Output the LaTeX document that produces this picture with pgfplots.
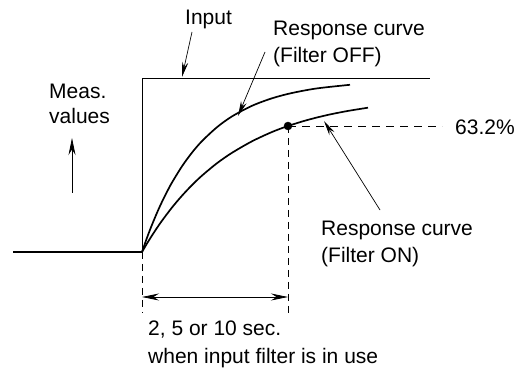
\documentclass[border=0pt]{standalone}
\usepackage{pgfplots}
\pgfplotsset{compat=1.18}
\usepackage{fontspec}
\setmainfont{Liberation Sans}
\usetikzlibrary{arrows.meta}
\begin{document}
\begin{tikzpicture}[font=\fontsize{21bp}{27bp}\selectfont]
\begin{axis}[
  width=516bp, height=369bp, scale only axis,
  xmin=0, xmax=516, ymin=0, ymax=369,
  hide axis, clip=false,
]
% bounding helper
\addplot[draw=none, forget plot] coordinates {(0,0) (516,369)};
% input step
\addplot[black, line width=1.7pt] coordinates {(13,117) (142,117)};
\addplot[black, line width=0.8pt] coordinates {(142,117) (142,291) (430,291)};
% response curve, filter OFF
\addplot[black, line width=1.7pt, smooth] coordinates {
(142,117) (146,128.5) (150,139.2) (154,149.1) (158,158.5) (162,167.2) (167,177.2)
(172,186.5) (182,202.7) (192,216.4) (202,227.9) (217,241.8) (232,252.6) (252,263.2)
(272,270.7) (292,276) (317,280.6) (350,284.2)};
% response curve, filter ON
\addplot[black, line width=1.7pt, smooth] coordinates {
(142,117) (147,125.5) (152,133.5) (157,141.1) (162,148.3) (172,161.5) (182,173.3)
(192,183.9) (202,193.4) (217,205.8) (232,216.2) (252,227.7) (272,237) (288,243)
(307,248.9) (327,253.9) (347,257.9) (368,261.3)};
% dashed guides
\addplot[black, line width=0.8pt, dash pattern=on 8bp off 6bp] coordinates {(288,243) (442,243)};
\addplot[black, line width=0.8pt, dash pattern=on 7bp off 5bp] coordinates {(288,243) (288,52)};
\addplot[black, line width=0.8pt, dash pattern=on 7bp off 5bp] coordinates {(142,117) (142,56)};
% 63.2% point
\addplot[only marks, mark=*, mark size=4bp, black] coordinates {(288,243)};
% double arrow
\draw[black, line width=0.8pt, {Stealth[length=17bp,width=7bp]}-{Stealth[length=17bp,width=7bp]}] (axis cs:142,72) -- (axis cs:288,72);
% label arrows
\draw[black, line width=0.7pt, -{Stealth[length=15bp,width=6bp]}] (axis cs:192,337) -- (axis cs:182,292);
\draw[black, line width=0.7pt, -{Stealth[length=15bp,width=6bp]}] (axis cs:265,317) -- (axis cs:238,253);
\draw[black, line width=0.7pt, -{Stealth[length=15bp,width=6bp]}] (axis cs:380,159) -- (axis cs:324,248);
\draw[black, line width=0.8pt, -{Stealth[length=17bp,width=7bp]}] (axis cs:72,176) -- (axis cs:72,231);
% texts
\node[anchor=base west, inner sep=0] at (axis cs:185,344) {Input};
\node[anchor=base west, inner sep=0] at (axis cs:49,270) {Meas.};
\node[anchor=base west, inner sep=0] at (axis cs:49,245) {values};
\node[anchor=base west, inner sep=0] at (axis cs:273,333) {Response curve};
\node[anchor=base west, inner sep=0] at (axis cs:273,306) {(Filter OFF)};
\node[anchor=base west, inner sep=0] at (axis cs:455,234) {63.2\%};
\node[anchor=base west, inner sep=0] at (axis cs:321,133) {Response curve};
\node[anchor=base west, inner sep=0] at (axis cs:321,106) {(Filter ON)};
\node[anchor=base west, inner sep=0] at (axis cs:148,33) {2, 5 or 10 sec.};
\node[anchor=base west, inner sep=0] at (axis cs:148,6) {when input filter is in use};
\end{axis}
\end{tikzpicture}
\end{document}
